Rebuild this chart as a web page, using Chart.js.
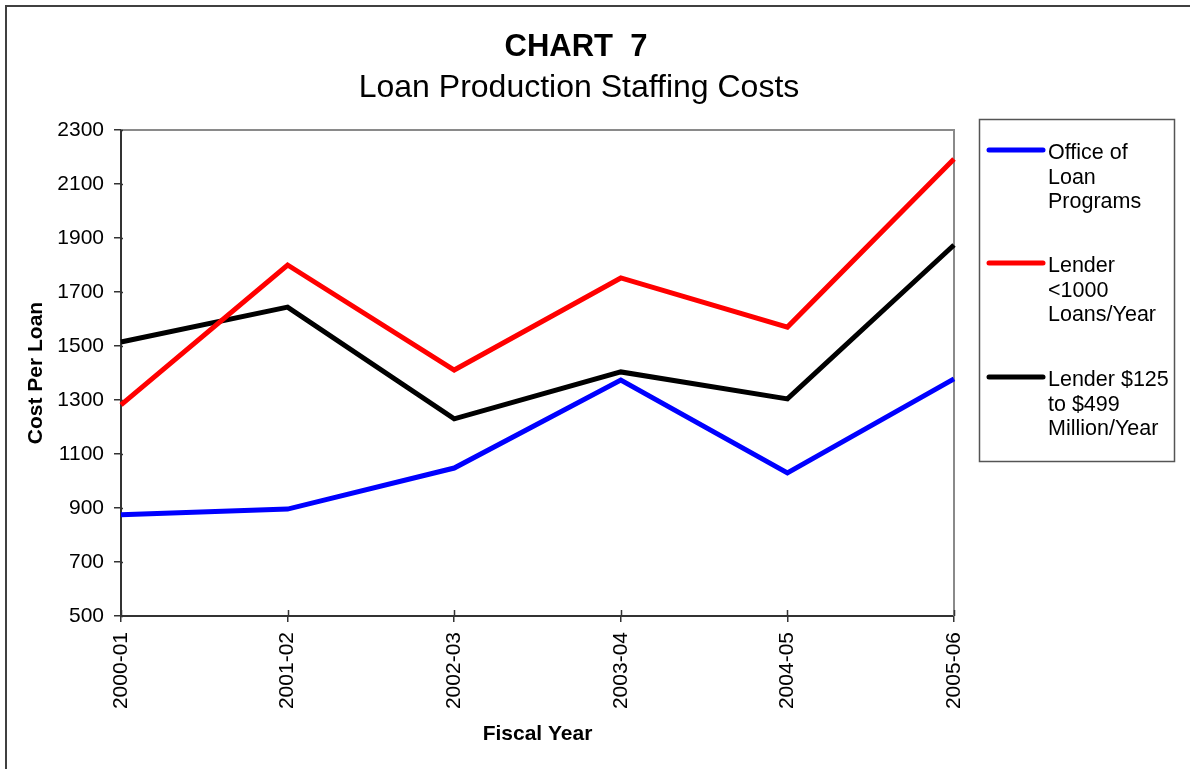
<!DOCTYPE html>
<html>
<head>
<meta charset="utf-8">
<title>Loan Production Staffing Costs</title>
<script src="https://cdn.jsdelivr.net/npm/chart.js@4/dist/chart.umd.min.js"></script>
<style>
  html, body { margin: 0; padding: 0; background: #ffffff; }
  canvas { display: block; }
</style>
</head>
<body>
<canvas id="chart" width="1190" height="769"></canvas>
<script>
// Fiscal years on the horizontal axis
const fiscalYears = ["2000-01", "2001-02", "2002-03", "2003-04", "2004-05", "2005-06"];

// Cost per loan, dollars
const officeOfLoanPrograms = [875, 896, 1048, 1374, 1030, 1378];
const lenderUnder1000Loans = [1282, 1800, 1411, 1752, 1570, 2193];
const lender125to499Million = [1515, 1644, 1230, 1404, 1304, 1874];

// Series names, broken into the lines shown in the legend box
const seriesNames = [
  ["Office of", "Loan", "Programs"],
  ["Lender", "<1000", "Loans/Year"],
  ["Lender $125", "to $499", "Million/Year"]
];
const seriesColors = ["#0000ff", "#ff0000", "#000000"];

// Vertical axis range
const yMin = 500, yMax = 2300, yStep = 200;

const chartTitle = "CHART  7";
const chartSubtitle = "Loan Production Staffing Costs";
const yAxisTitle = "Cost Per Loan";
const xAxisTitle = "Fiscal Year";

const FONT = "'Liberation Sans', Arial, Helvetica, sans-serif";

// Frame, titles, inner tick marks, plot border and legend
const decorations = {
  id: "decorations",
  beforeDatasetsDraw(chart) {
    const { ctx, chartArea: a } = chart;
    ctx.save();
    // top and right edges of the plot area
    ctx.strokeStyle = "#8a8a8a";
    ctx.lineWidth = 2;
    ctx.beginPath();
    ctx.moveTo(a.left, a.top);
    ctx.lineTo(a.right, a.top);
    ctx.lineTo(a.right, a.bottom);
    ctx.stroke();
    // tick marks reaching into the plot on both axes
    const xs = chart.scales.x;
    ctx.strokeStyle = "#333333";
    ctx.lineWidth = 1.5;
    xs.ticks.forEach((t, i) => {
      const px = Math.round(xs.getPixelForTick(i)) + 0.5;
      ctx.beginPath();
      ctx.moveTo(px, a.bottom - 6);
      ctx.lineTo(px, a.bottom);
      ctx.stroke();
    });
    const ys = chart.scales.y;
    ys.ticks.forEach((t, i) => {
      const py = Math.round(ys.getPixelForTick(i)) + 0.5;
      ctx.beginPath();
      ctx.moveTo(a.left, py);
      ctx.lineTo(a.left + 2, py);
      ctx.stroke();
    });
    ctx.restore();
  },
  afterDraw(chart) {
    const { ctx, chartArea: a } = chart;
    ctx.save();
    // outer frame
    ctx.strokeStyle = "#404040";
    ctx.lineWidth = 2;
    ctx.beginPath();
    ctx.moveTo(6, 775);
    ctx.lineTo(6, 6);
    ctx.lineTo(1195, 6);
    ctx.stroke();

    // titles
    ctx.fillStyle = "#000000";
    ctx.textAlign = "center";
    ctx.textBaseline = "alphabetic";
    ctx.font = "bold 31px " + FONT;
    ctx.fillText(chartTitle, 576, 56);
    ctx.font = "32px " + FONT;
    ctx.fillText(chartSubtitle, 579, 97);

    // axis titles
    ctx.font = "bold 21px " + FONT;
    ctx.fillText(xAxisTitle, (a.left + a.right) / 2, 740);
    ctx.save();
    ctx.translate(42, (a.top + a.bottom) / 2);
    ctx.rotate(-Math.PI / 2);
    ctx.fillText(yAxisTitle, 0, 0);
    ctx.restore();

    // legend box
    const box = { x: 979.5, y: 119.5, w: 195, h: 342 };
    ctx.strokeStyle = "#555555";
    ctx.lineWidth = 1.5;
    ctx.strokeRect(box.x, box.y, box.w, box.h);
    ctx.textAlign = "left";
    ctx.font = "21.5px " + FONT;
    const entryTop = [150, 263, 377];
    chart.data.datasets.forEach((ds, i) => {
      const ly = entryTop[i];
      ctx.strokeStyle = ds.borderColor;
      ctx.lineWidth = 5;
      ctx.lineCap = "round";
      ctx.beginPath();
      ctx.moveTo(989, ly);
      ctx.lineTo(1043, ly);
      ctx.stroke();
      ctx.fillStyle = "#000000";
      ds.label.forEach((line, j) => {
        ctx.fillText(line, 1048, ly + 9 + j * 24.5);
      });
    });
    ctx.restore();
  }
};

const datasets = [officeOfLoanPrograms, lenderUnder1000Loans, lender125to499Million].map((vals, i) => ({
  label: seriesNames[i],
  data: vals,
  borderColor: seriesColors[i],
  backgroundColor: seriesColors[i],
  borderWidth: 5,
  pointRadius: 0,
  pointHoverRadius: 0,
  tension: 0,
  fill: false,
  borderJoinStyle: "miter",
  borderCapStyle: "butt"
}));

new Chart(document.getElementById("chart"), {
  type: "line",
  data: { labels: fiscalYears, datasets },
  options: {
    responsive: false,
    animation: false,
    devicePixelRatio: 1,
    layout: { padding: { top: 130, right: 236, left: 0, bottom: 0 } },
    plugins: {
      legend: { display: false },
      title: { display: false },
      tooltip: { enabled: false }
    },
    scales: {
      x: {
        type: "category",
        offset: false,
        afterFit(scale) { scale.height = 153; },
        grid: { display: true, drawOnChartArea: false, drawTicks: true, tickLength: 6, color: "#333333", lineWidth: 1.5 },
        border: { display: true, color: "#333333", width: 2 },
        ticks: {
          autoSkip: false,
          minRotation: 90,
          maxRotation: 90,
          padding: 10,
          color: "#000000",
          font: { family: FONT, size: 21 }
        }
      },
      y: {
        min: yMin,
        max: yMax,
        afterFit(scale) { scale.width = 121; },
        grid: { display: true, drawOnChartArea: false, drawTicks: true, tickLength: 7, color: "#333333", lineWidth: 1.5 },
        border: { display: true, color: "#333333", width: 2 },
        ticks: {
          stepSize: yStep,
          padding: 10,
          color: "#000000",
          font: { family: FONT, size: 21 },
          callback: (value) => String(value)
        }
      }
    }
  },
  plugins: [decorations]
});
</script>
</body>
</html>
